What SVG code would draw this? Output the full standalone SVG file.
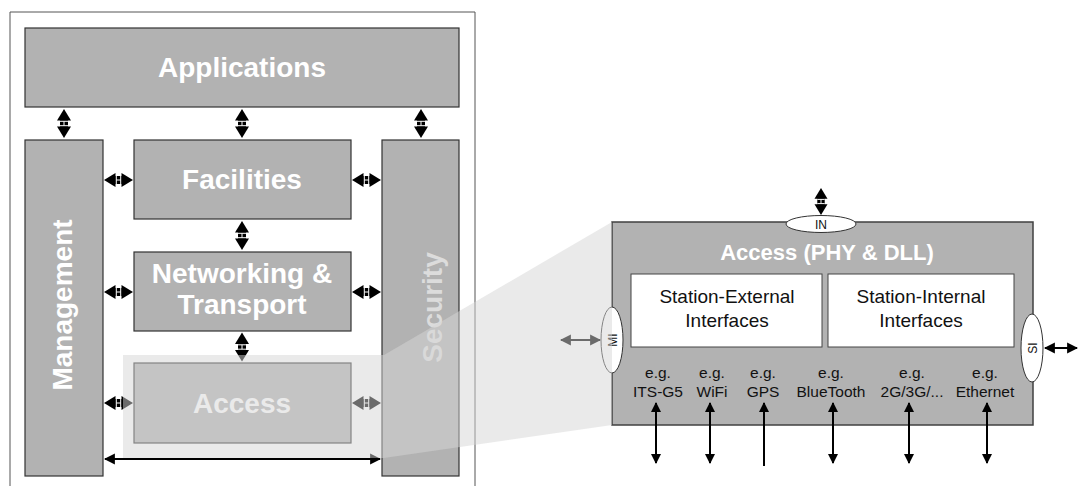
<svg xmlns="http://www.w3.org/2000/svg" xmlns:xlink="http://www.w3.org/1999/xlink" width="1078" height="486" viewBox="0 0 1078 486">
<style>
text{font-family:"Liberation Sans",Arial,sans-serif;}
.box{fill:#b2b2b2;stroke:#333;stroke-width:1.2;}
.wbox{fill:#fff;stroke:#444;stroke-width:1;}
.big{font-size:28px;font-weight:bold;fill:#fff;text-anchor:middle;}
.mid{font-size:19px;fill:#111;text-anchor:middle;}
.sm{font-size:15.5px;fill:#111;text-anchor:middle;}
.tiny{font-size:12px;fill:#111;text-anchor:middle;}
.ell{fill:#fff;stroke:#333;stroke-width:1;}
.ln{stroke:#000;stroke-width:2;fill:none;}
</style>
<defs>
<g id="dbl">
<polygon points="-14.5,0 -3,-7 -3,7" fill="#000"/>
<polygon points="14.5,0 3,-7 3,7" fill="#000"/>
<rect x="-3.5" y="-4" width="7" height="8" fill="#000"/>
<path d="M-2.2,-4V4M2.2,-4V4M-2.2,0H2.2" stroke="#fff" stroke-width="1" fill="none"/>
</g>
<marker id="ah" viewBox="0 0 10 10" refX="9" refY="5" markerWidth="10" markerHeight="10" orient="auto-start-reverse" markerUnits="userSpaceOnUse">
<path d="M0,0L10,5L0,10z" fill="#000"/>
</marker>
<marker id="ahb" viewBox="0 0 10 10" refX="9" refY="5" markerWidth="11" markerHeight="13" orient="auto-start-reverse" markerUnits="userSpaceOnUse">
<path d="M0,0L10,5L0,10z" fill="#000"/>
</marker>
</defs>
<rect width="1078" height="486" fill="#fff"/>
<path d="M10,486V12H475V486" fill="none" stroke="#555" stroke-width="1"/>

<g id="applications">
<rect class="box" x="25" y="28" width="434" height="79"/>
<text class="big" x="242" y="77">Applications</text>
</g>
<g id="management">
<rect class="box" x="25" y="140" width="78" height="336"/>
<text class="big" transform="translate(72,305) rotate(-90)">Management</text>
</g>
<g id="security">
<rect class="box" x="382" y="140" width="77" height="336"/>
<text class="big" style="fill:#dcdcdc" transform="translate(442,307.5) rotate(-90)">Security</text>
</g>
<g id="facilities">
<rect class="box" x="134" y="140" width="217" height="79"/>
<text class="big" x="242" y="189">Facilities</text>
</g>
<g id="networking">
<rect class="box" x="134" y="252" width="217" height="79"/>
<text class="big" x="242" y="283">Networking &amp;</text>
<text class="big" x="242" y="314">Transport</text>
</g>
<g id="access-small">
<rect class="box" x="134" y="363" width="217" height="80"/>
<text class="big" x="242" y="413">Access</text>
</g>

<g id="access-detail">
<rect class="box" x="612" y="222" width="421" height="203" style="stroke:#404040;stroke-width:1.5"/>
<text x="827" y="260" style="font-size:22px;font-weight:bold;fill:#fff;text-anchor:middle">Access (PHY &amp; DLL)</text>
</g>
<g id="station-external">
<rect class="wbox" x="631" y="274" width="191" height="73"/>
<text class="mid" x="727" y="303">Station-External</text>
<text class="mid" x="727" y="327">Interfaces</text>
</g>
<g id="station-internal">
<rect class="wbox" x="828" y="274" width="186" height="73"/>
<text class="mid" x="921" y="303">Station-Internal</text>
<text class="mid" x="921" y="327">Interfaces</text>
</g>
<g id="examples">
<text class="sm" x="658" y="378">e.g.</text><text class="sm" x="658" y="397">ITS-G5</text>
<text class="sm" x="712" y="378">e.g.</text><text class="sm" x="712" y="397">WiFi</text>
<text class="sm" x="763" y="378">e.g.</text><text class="sm" x="763" y="397">GPS</text>
<text class="sm" x="831" y="378">e.g.</text><text class="sm" x="831" y="397">BlueTooth</text>
<text class="sm" x="912" y="378">e.g.</text><text class="sm" x="912" y="397">2G/3G/...</text>
<text class="sm" x="985" y="378">e.g.</text><text class="sm" x="985" y="397">Ethernet</text>
</g>
<g id="if-in">
<ellipse class="ell" cx="821" cy="224" rx="35" ry="8.5"/>
<text class="tiny" x="821" y="228.5">IN</text>
</g>
<g id="if-si">
<ellipse class="ell" cx="1032" cy="348" rx="11" ry="34"/>
<text class="tiny" transform="translate(1036.5,348) rotate(-90)">SI</text>
</g>
<g id="if-mi">
<ellipse class="ell" cx="612" cy="340" rx="11" ry="33"/>
<text class="tiny" transform="translate(616.5,340) rotate(-90)">MI</text>
</g>

<g id="connectors">
<use xlink:href="#dbl" href="#dbl" transform="translate(64,123.5) rotate(90)"/>
<use xlink:href="#dbl" href="#dbl" transform="translate(242,123.5) rotate(90)"/>
<use xlink:href="#dbl" href="#dbl" transform="translate(421,123.5) rotate(90)"/>
<use xlink:href="#dbl" href="#dbl" transform="translate(242,235.5) rotate(90)"/>
<use xlink:href="#dbl" href="#dbl" transform="translate(242,347) rotate(90)"/>
<use xlink:href="#dbl" href="#dbl" transform="translate(118.5,180)"/>
<use xlink:href="#dbl" href="#dbl" transform="translate(366.5,180)"/>
<use xlink:href="#dbl" href="#dbl" transform="translate(118.5,292)"/>
<use xlink:href="#dbl" href="#dbl" transform="translate(366.5,292)"/>
<use xlink:href="#dbl" href="#dbl" transform="translate(118.5,403)"/>
<use xlink:href="#dbl" href="#dbl" transform="translate(366.5,403)"/>
<use xlink:href="#dbl" href="#dbl" transform="translate(821,201.5) rotate(90) scale(0.93)"/>
<line class="ln" x1="105" y1="459" x2="380" y2="459" stroke-width="2.5" marker-start="url(#ahb)" marker-end="url(#ahb)"/>
<line class="ln" x1="561" y1="340" x2="600" y2="340" stroke-width="4" marker-start="url(#ahb)" marker-end="url(#ahb)"/>
<line class="ln" x1="1045" y1="348" x2="1077" y2="348" stroke-width="4" marker-start="url(#ahb)" marker-end="url(#ahb)"/>
<line class="ln" x1="656" y1="403" x2="656" y2="463" marker-start="url(#ah)" marker-end="url(#ah)"/>
<line class="ln" x1="710" y1="403" x2="710" y2="463" marker-start="url(#ah)" marker-end="url(#ah)"/>
<line class="ln" x1="764" y1="403" x2="764" y2="466" marker-start="url(#ah)"/>
<line class="ln" x1="833" y1="403" x2="833" y2="463" marker-start="url(#ah)" marker-end="url(#ah)"/>
<line class="ln" x1="909" y1="403" x2="909" y2="463" marker-start="url(#ah)" marker-end="url(#ah)"/>
<line class="ln" x1="987" y1="403" x2="987" y2="463" marker-start="url(#ah)" marker-end="url(#ah)"/>
</g>

<polygon points="123,355 384,355 612,222 612,425 384,458 123,458" fill="#d6d6d6" fill-opacity="0.5"/>
</svg>
